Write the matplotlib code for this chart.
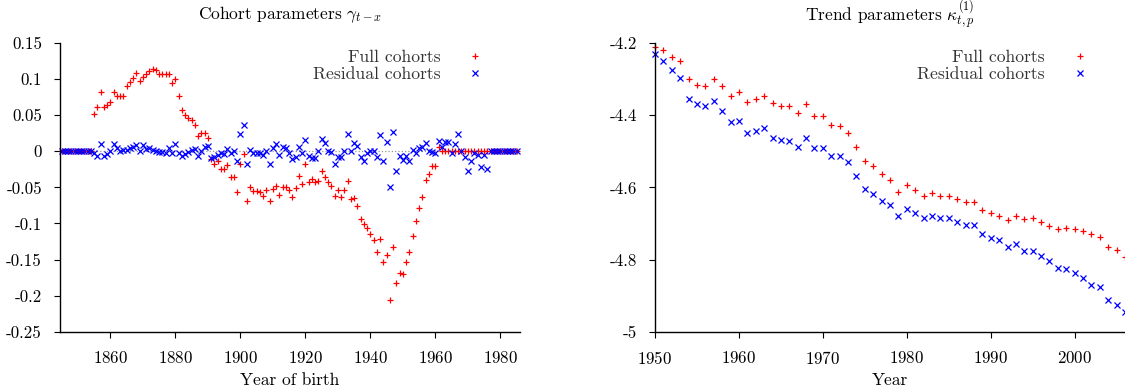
import matplotlib
matplotlib.use("Agg")
import matplotlib.pyplot as plt

# --- cohort parameters (left panel) ---
birth_years = list(range(1845, 1986))

# full cohorts: zero before 1855 and after 1961
gamma_full = [0.0] * 10 + [
    0.051, 0.061, 0.082, 0.062, 0.064,
    0.068, 0.082, 0.077, 0.077, 0.077, 0.090, 0.096, 0.102, 0.109, 0.098,
    0.103, 0.107, 0.111, 0.114, 0.113, 0.107, 0.107, 0.107, 0.107, 0.094,
    0.100, 0.077, 0.057, 0.050, 0.046, 0.043, 0.037, 0.021, 0.025, 0.025,
    0.018, -0.011, -0.018, -0.014, -0.025, -0.025, -0.019, -0.035, -0.035, -0.057,
    -0.017, -0.004, -0.069, -0.049, -0.055, -0.055, -0.057, -0.062, -0.054, -0.069,
    -0.052, -0.048, -0.061, -0.050, -0.050, -0.053, -0.063, -0.051, -0.034, -0.045,
    -0.018, -0.043, -0.039, -0.043, -0.041, -0.027, -0.035, -0.043, -0.048, -0.062,
    -0.054, -0.064, -0.054, -0.041, -0.066, -0.065, -0.076, -0.094, -0.101, -0.107,
    -0.114, -0.123, -0.140, -0.121, -0.154, -0.144, -0.206, -0.133, -0.183, -0.168,
    -0.170, -0.153, -0.140, -0.118, -0.097, -0.079, -0.063, -0.040, -0.031, -0.020,
    -0.020, 0.006,
] + [0.0] * 24

# residual cohorts: zero before 1855 and after 1976
gamma_resid = [0.0] * 10 + [
    -0.002, -0.006, 0.010, -0.006, -0.004,
    0.000, 0.010, 0.004, 0.000, 0.002, 0.002, 0.004, 0.006, 0.008, 0.000,
    0.008, 0.003, 0.004, 0.002, 0.000, -0.001, -0.001, -0.002, 0.004, -0.003,
    0.010, -0.002, -0.006, -0.004, -0.001, 0.002, 0.003, -0.006, 0.000, 0.006,
    0.007, -0.010, -0.008, -0.005, -0.003, -0.004, 0.003, -0.003, 0.000, -0.014,
    0.024, 0.036, -0.017, 0.002, -0.003, -0.003, -0.003, -0.005, 0.000, -0.017,
    0.004, 0.010, -0.005, 0.006, 0.004, -0.003, -0.011, -0.008, 0.006, -0.003,
    0.015, -0.007, -0.010, -0.010, 0.000, 0.017, 0.011, 0.000, -0.001, -0.017,
    -0.008, -0.008, 0.000, 0.024, 0.000, 0.012, 0.007, -0.008, -0.013, -0.003,
    0.000, 0.000, -0.008, 0.023, -0.013, 0.013, -0.049, 0.027, -0.027, -0.007,
    -0.012, -0.007, -0.014, 0.002, -0.003, 0.004, 0.006, 0.011, 0.000, -0.001,
    -0.003, 0.014, 0.006, 0.013, 0.013, -0.003, 0.010, 0.024, 0.000, -0.008,
    -0.028, -0.014, -0.003, -0.005, -0.022, -0.005, -0.025,
] + [0.0] * 9

# --- trend parameters (right panel) ---
years = list(range(1950, 2007))
kappa_full = [
    -4.212, -4.219, -4.238, -4.250, -4.300, -4.316, -4.319, -4.300, -4.319, -4.346,
    -4.337, -4.364, -4.356, -4.346, -4.367, -4.374, -4.375, -4.395, -4.369, -4.401,
    -4.403, -4.428, -4.431, -4.449, -4.488, -4.526, -4.542, -4.564, -4.579, -4.612,
    -4.593, -4.607, -4.623, -4.616, -4.624, -4.624, -4.632, -4.641, -4.641, -4.663,
    -4.672, -4.679, -4.690, -4.679, -4.689, -4.686, -4.695, -4.706, -4.716, -4.714,
    -4.715, -4.721, -4.730, -4.737, -4.764, -4.773, -4.792,
]
kappa_resid = [
    -4.231, -4.250, -4.275, -4.296, -4.355, -4.370, -4.375, -4.361, -4.388, -4.420,
    -4.415, -4.449, -4.444, -4.435, -4.462, -4.469, -4.472, -4.489, -4.462, -4.492,
    -4.492, -4.513, -4.513, -4.529, -4.569, -4.605, -4.618, -4.637, -4.649, -4.679,
    -4.661, -4.671, -4.686, -4.679, -4.684, -4.684, -4.697, -4.704, -4.704, -4.729,
    -4.741, -4.747, -4.766, -4.757, -4.775, -4.775, -4.790, -4.804, -4.823, -4.825,
    -4.838, -4.850, -4.871, -4.877, -4.912, -4.926, -4.945,
]

left_yticks = [0.15, 0.1, 0.05, 0, -0.05, -0.1, -0.15, -0.2, -0.25]
left_ylabels = ["0.15", "0.1", "0.05", "0", "-0.05", "-0.1", "-0.15", "-0.2", "-0.25"]
left_xticks = [1860, 1880, 1900, 1920, 1940, 1960, 1980]
right_yticks = [-4.2, -4.4, -4.6, -4.8, -5.0]
right_ylabels = ["-4.2", "-4.4", "-4.6", "-4.8", "-5"]
right_xticks = [1950, 1960, 1970, 1980, 1990, 2000]

plt.rcParams["font.family"] = "serif"
plt.rcParams["font.serif"] = ["cmr10"]
plt.rcParams["mathtext.fontset"] = "cm"
plt.rcParams["axes.unicode_minus"] = False
plt.rcParams["axes.formatter.use_mathtext"] = True
plt.rcParams["font.size"] = 12

W, H = 1125, 390
fig = plt.figure(figsize=(W / 100, H / 100), dpi=100)
ax1 = fig.add_axes([60 / W, 1 - 331.7 / H, 460 / W, 288.7 / H])
ax2 = fig.add_axes([655 / W, 1 - 331.7 / H, 470 / W, 288.7 / H])

mk = dict(linestyle="none", markersize=4.0, markeredgewidth=0.9, clip_on=False)


def style_axes(ax):
    for side in ["top", "right"]:
        ax.spines[side].set_visible(False)
    for side in ["left", "bottom"]:
        ax.spines[side].set_linewidth(1.0)
    ax.tick_params(direction="out", length=4, width=0.8, pad=9, labelsize=12.2)


def add_legend(ax):
    leg = ax.legend(loc="upper right", bbox_to_anchor=(0.922, 0.978),
                    markerfirst=False, frameon=False, borderpad=0, borderaxespad=0,
                    handlelength=1.0, handletextpad=1.45, labelspacing=0.12,
                    fontsize=12.7)
    for t in leg.get_texts():
        t.set_color("#333333")


# left panel
ax1.axhline(0, color="#999999", linestyle=":", linewidth=0.9, zorder=1)
ax1.plot(birth_years, gamma_full, "+", color="red", label="Full cohorts", **mk)
ax1.plot(birth_years, gamma_resid, "x", color="blue", label="Residual cohorts", **mk)
ax1.set_xlim(1844.5, 1986)
ax1.set_ylim(-0.25, 0.15)
ax1.set_xticks(left_xticks)
ax1.set_yticks(left_yticks)
ax1.set_yticklabels(left_ylabels)
style_axes(ax1)
add_legend(ax1)

# right panel
ax2.plot(years, kappa_full, "+", color="red", label="Full cohorts", **mk)
ax2.plot(years, kappa_resid, "x", color="blue", label="Residual cohorts", **mk)
ax2.set_xlim(1950, 2006)
ax2.set_ylim(-5.0, -4.2)
ax2.set_xticks(right_xticks)
ax2.set_yticks(right_yticks)
ax2.set_yticklabels(right_ylabels)
style_axes(ax2)
add_legend(ax2)

# titles and axis labels
fig.text(290 / W, 1 - 15 / H, r"Cohort parameters $\gamma_{t-x}$", ha="center", va="center", fontsize=12.5)
fig.text(890 / W, 1 - 15 / H, r"Trend parameters $\kappa^{(1)}_{t,p}$", ha="center", va="center", fontsize=12.5)
fig.text(290 / W, 1 - 380 / H, "Year of birth", ha="center", va="center", fontsize=12.5)
fig.text(890 / W, 1 - 380 / H, "Year", ha="center", va="center", fontsize=12.5)

fig.savefig("out.png", dpi=100)
